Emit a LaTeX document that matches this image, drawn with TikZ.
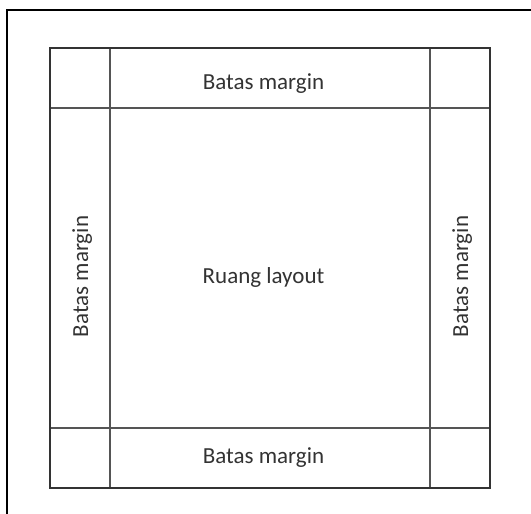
\documentclass[tikz,border=0pt]{standalone}
\usepackage{fontspec}
\setmainfont{Carlito}
\definecolor{edge}{HTML}{333333}
\definecolor{divider}{HTML}{555555}
\definecolor{txt}{HTML}{333333}
\begin{document}
\begin{tikzpicture}[x=1pt,y=-1pt,
  lbl/.style={text=txt,font=\fontsize{23}{27}\selectfont,inner sep=0pt,anchor=base}]
\useasboundingbox (0,0) rectangle (531,514);
% outer frame (left and top only)
\coordinate (fa) at (7,514);
\coordinate (fb) at (7,10);
\coordinate (fc) at (531,10);
\draw[line width=1.5pt,black] (fa) -- (fb) -- (fc);
% inner square
\coordinate (tl) at (50,48);
\coordinate (br) at (490,488);
\coordinate (v1t) at (110,48); \coordinate (v1b) at (110,488);
\coordinate (v2t) at (430,48); \coordinate (v2b) at (430,488);
\coordinate (h1l) at (50,108); \coordinate (h1r) at (490,108);
\coordinate (h2l) at (50,428); \coordinate (h2r) at (490,428);
\draw[line width=1.2pt,divider] (v1t) -- (v1b) (v2t) -- (v2b) (h1l) -- (h1r) (h2l) -- (h2r);
\draw[line width=1.8pt,edge] (tl) rectangle (br);
% labels
\node[lbl] (top) at (263.5,89) {Batas margin};
\node[lbl] (bot) at (263.5,463) {Batas margin};
\node[lbl] (mid) at (263.5,283) {Ruang layout};
\node[lbl,rotate=90] (left) at (88,276.5) {Batas margin};
\node[lbl,rotate=90] (right) at (468,276.5) {Batas margin};
\end{tikzpicture}
\end{document}
